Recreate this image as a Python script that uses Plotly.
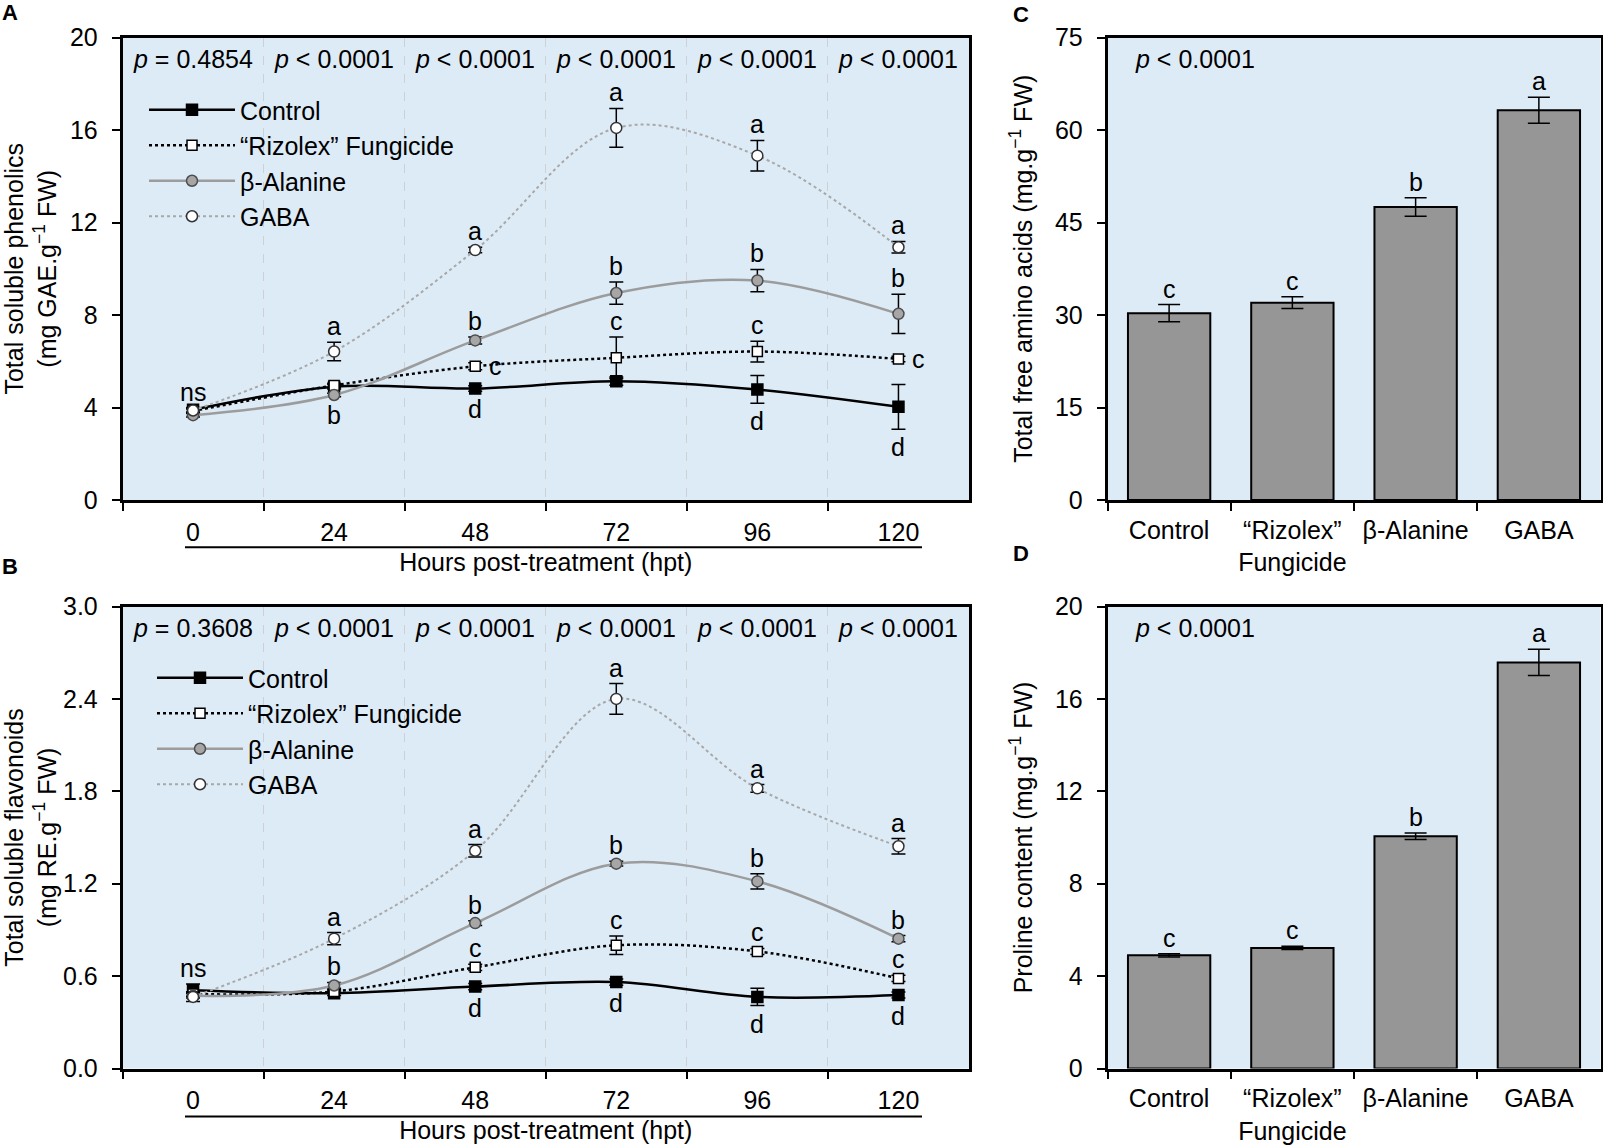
import plotly.graph_objects as go

W, H = 1603, 1148
FONT = 'Liberation Sans, Arial, sans-serif'

# categories
hpt = ['0', '24', '48', '72', '96', '120']
treatments = ['Control', '“Rizolex” Fungicide', 'β-Alanine', 'GABA']
bar_labels = ['Control', '“Rizolex”<br>Fungicide', 'β-Alanine', 'GABA']

# A: total soluble phenolics (mg GAE/g FW)
phen_control = [3.90, 4.90, 4.82, 5.14, 4.78, 4.03]
phen_control_se = [0.10, 0.10, 0.12, 0.18, 0.60, 0.97]
phen_rizolex = [3.85, 4.95, 5.78, 6.15, 6.42, 6.10]
phen_rizolex_se = [0.10, 0.10, 0.15, 0.90, 0.45, 0.12]
phen_alanine = [3.67, 4.54, 6.90, 8.95, 9.49, 8.05]
phen_alanine_se = [0.08, 0.08, 0.15, 0.48, 0.48, 0.85]
phen_gaba = [3.87, 6.42, 10.81, 16.09, 14.89, 10.93]
phen_gaba_se = [0.08, 0.40, 0.12, 0.84, 0.66, 0.25]
phen_p = ['= 0.4854', '< 0.0001', '< 0.0001', '< 0.0001', '< 0.0001', '< 0.0001']

# B: total soluble flavonoids (mg RE/g FW)
flav_control = [0.508, 0.489, 0.532, 0.561, 0.465, 0.477]
flav_control_se = [0.040, 0.015, 0.020, 0.020, 0.056, 0.020]
flav_rizolex = [0.484, 0.500, 0.657, 0.800, 0.760, 0.585]
flav_rizolex_se = [0.015, 0.012, 0.020, 0.060, 0.020, 0.020]
flav_alanine = [0.472, 0.539, 0.944, 1.330, 1.215, 0.843]
flav_alanine_se = [0.015, 0.020, 0.015, 0.015, 0.050, 0.020]
flav_gaba = [0.465, 0.843, 1.414, 2.400, 1.819, 1.443]
flav_gaba_se = [0.030, 0.040, 0.040, 0.100, 0.025, 0.050]
flav_p = ['= 0.3608', '< 0.0001', '< 0.0001', '< 0.0001', '< 0.0001', '< 0.0001']

# significance letters and where they sit (above / below / right of the point)
phen_letters = [
    (['ns', '', 'd', '', 'd', 'd'], ['above', '', 'below', '', 'below', 'below']),
    (['', '', 'c', 'c', 'c', 'c'], ['', '', 'right', 'above', 'above', 'right']),
    (['', 'b', 'b', 'b', 'b', 'b'], ['', 'below', 'above', 'above', 'above', 'above']),
    (['', 'a', 'a', 'a', 'a', 'a'], ['', 'above', 'above', 'above', 'above', 'above']),
]
flav_letters = [
    (['ns', '', 'd', 'd', 'd', 'd'], ['above', '', 'below', 'below', 'below', 'below']),
    (['', '', 'c', 'c', 'c', 'c'], ['', '', 'above', 'above', 'above', 'above']),
    (['', 'b', 'b', 'b', 'b', 'b'], ['', 'above', 'above', 'above', 'above', 'above']),
    (['', 'a', 'a', 'a', 'a', 'a'], ['', 'above', 'above', 'above', 'above', 'above']),
]

# C: total free amino acids, D: proline
amino_mean = [30.3, 32.0, 47.5, 63.2]
amino_se = [1.4, 0.95, 1.5, 2.1]
amino_letters = ['c', 'c', 'b', 'a']
proline_mean = [4.90, 5.22, 10.05, 17.58]
proline_se = [0.07, 0.07, 0.14, 0.57]
proline_letters = ['c', 'c', 'b', 'a']

# trace styles, same order as treatments
styles = [
    dict(line=dict(color='black', width=2.5, dash='solid'),
         marker=dict(symbol='square', size=11, color='black', line=dict(color='black', width=1.5))),
    dict(line=dict(color='black', width=2.5, dash='dot'),
         marker=dict(symbol='square', size=10, color='white', line=dict(color='black', width=1.5))),
    dict(line=dict(color='#9c9c9c', width=2.5, dash='solid'),
         marker=dict(symbol='circle', size=11, color='#a6a6a6', line=dict(color='#4d4d4d', width=1.5))),
    dict(line=dict(color='#a8a8a8', width=2, dash='dot'),
         marker=dict(symbol='circle', size=11, color='white', line=dict(color='#333333', width=1.5))),
]


def py(p):
    return 1 - p / H


fig = go.Figure()
annotations = []

line_panels = [
    ('x', 'y', 'legend',
     [phen_control, phen_rizolex, phen_alanine, phen_gaba],
     [phen_control_se, phen_rizolex_se, phen_alanine_se, phen_gaba_se],
     phen_letters, phen_p),
    ('x2', 'y2', 'legend2',
     [flav_control, flav_rizolex, flav_alanine, flav_gaba],
     [flav_control_se, flav_rizolex_se, flav_alanine_se, flav_gaba_se],
     flav_letters, flav_p),
]

for xa, ya, leg, means, ses, letters, pvals in line_panels:
    for name, m, s, st, (labs, poss) in zip(treatments, means, ses, styles, letters):
        fig.add_trace(go.Scatter(
            x=hpt, y=m, name=name, xaxis=xa, yaxis=ya, legend=leg,
            mode='lines+markers', line_shape='spline',
            line=st['line'], marker=st['marker'],
            error_y=dict(type='data', array=s, color='black', thickness=1.5, width=7),
        ))
        # numeric-looking category names would be read as indices, so use the index
        for i, (lab, pos) in enumerate(zip(labs, poss)):
            if not lab:
                continue
            a = dict(x=i, xref=xa, yref=ya, text=lab, showarrow=False,
                     xanchor='center', yanchor='middle',
                     font=dict(size=25, family=FONT, color='black'))
            if pos == 'above':
                a.update(y=m[i] + s[i], yshift=16)
            elif pos == 'below':
                a.update(y=m[i] - s[i], yshift=-18)
            else:
                a.update(y=m[i], xshift=20)
            annotations.append(a)
    for i, p in enumerate(pvals):
        annotations.append(dict(x=i, xref=xa, y=0.953, yref=ya + ' domain',
                                xanchor='center', yanchor='middle',
                                text='<i>p</i> ' + p, showarrow=False,
                                font=dict(size=25, family=FONT, color='black')))

bar_panels = [
    ('x3', 'y3', amino_mean, amino_se, amino_letters),
    ('x4', 'y4', proline_mean, proline_se, proline_letters),
]
for xa, ya, m, s, labs in bar_panels:
    fig.add_trace(go.Bar(
        x=bar_labels, y=m, xaxis=xa, yaxis=ya, showlegend=False,
        marker=dict(color='#969696', line=dict(color='black', width=2)),
        error_y=dict(type='data', array=s, color='black', thickness=1.5, width=11),
    ))
    for i, (v, e, lab) in enumerate(zip(m, s, labs)):
        annotations.append(dict(x=i, xref=xa, y=v + e, yref=ya, yshift=16, text=lab,
                                xanchor='center', yanchor='middle', showarrow=False,
                                font=dict(size=25, family=FONT, color='black')))
    annotations.append(dict(x=0.052, xref=xa + ' domain', y=0.953, yref=ya + ' domain',
                            xanchor='left', yanchor='middle', text='<i>p</i> < 0.0001',
                            showarrow=False, font=dict(size=25, family=FONT, color='black')))

# panel letters
for lab, x, y in [('A', 10, 13), ('B', 10, 566), ('C', 1021, 15), ('D', 1021, 553)]:
    annotations.append(dict(x=x / W, y=py(y), xref='paper', yref='paper', text='<b>' + lab + '</b>',
                            xanchor='center', yanchor='middle', showarrow=False,
                            font=dict(size=22, family=FONT, color='black')))

tick_font = dict(size=25, family=FONT, color='black')
title_font = dict(size=25, family=FONT, color='black')

top = [py(500), py(37.5)]
bottom = [py(1068.5), py(606.5)]
left = [122.5 / W, 969 / W]
right = [1107.5 / W, 1600.5 / W]

frame = dict(showline=True, mirror=True, linewidth=2.5, linecolor='black',
             ticks='outside', ticklen=8, tickwidth=2, tickcolor='black',
             tickfont=tick_font, zeroline=False, automargin=False)


def hpt_axis(anchor):
    return dict(frame, domain=left, anchor=anchor, type='category', categoryorder='array',
                categoryarray=hpt, range=[-0.5, 5.5], tickson='boundaries',
                showgrid=True, gridcolor='#cdd1d5', griddash='dash', gridwidth=1,
                ticklabelstandoff=8,
                title=dict(text='Hours post-treatment (hpt)', font=title_font, standoff=9))


def bar_axis(anchor, dom):
    return dict(frame, domain=dom, anchor=anchor, type='category', categoryorder='array',
                categoryarray=bar_labels, range=[-0.5, 3.5], tickson='boundaries',
                showgrid=False, ticklabelstandoff=6)


def val_axis(anchor, dom, rng, dtick, title, standoff):
    return dict(frame, domain=dom, anchor=anchor, range=rng, dtick=dtick, tick0=0,
                showgrid=False, ticklabelstandoff=9,
                title=dict(text=title, font=title_font, standoff=standoff))


fig.update_layout(
    template='none',
    width=W, height=H,
    margin=dict(l=0, r=0, t=0, b=0, autoexpand=False),
    paper_bgcolor='white', plot_bgcolor='#DDEBF7',
    font=dict(family=FONT, color='black'),
    bargap=0.332,
    xaxis=hpt_axis('y'),
    yaxis=val_axis('x', top, [0, 20], 4,
                   'Total soluble phenolics<br>(mg GAE.g<sup>−1</sup> FW)', 17),
    xaxis2=hpt_axis('y2'),
    yaxis2=dict(val_axis('x2', bottom, [0, 3.0], 0.6,
                         'Total soluble flavonoids<br>(mg RE.g<sup>−1</sup> FW)', 17),
                tickformat='.1f'),
    xaxis3=bar_axis('y3', right),
    yaxis3=val_axis('x3', top, [0, 75], 15, 'Total free amino acids (mg.g<sup>−1</sup> FW)', 16),
    xaxis4=bar_axis('y4', right),
    yaxis4=val_axis('x4', bottom, [0, 20], 4, 'Proline content (mg.g<sup>−1</sup> FW)', 16),
    legend=dict(x=144 / W, y=py(87), xanchor='left', yanchor='top', itemwidth=86,
                bgcolor='rgba(0,0,0,0)', font=dict(size=25, family=FONT, color='black')),
    legend2=dict(x=152 / W, y=py(655), xanchor='left', yanchor='top', itemwidth=86,
                 bgcolor='rgba(0,0,0,0)', font=dict(size=25, family=FONT, color='black')),
    annotations=annotations,
    # underline below the hpt tick labels
    shapes=[
        dict(type='line', xref='paper', yref='paper', x0=185 / W, x1=922 / W,
             y0=py(547.3), y1=py(547.3), line=dict(color='black', width=2)),
        dict(type='line', xref='paper', yref='paper', x0=185 / W, x1=922 / W,
             y0=py(1116.6), y1=py(1116.6), line=dict(color='black', width=2)),
    ],
)

# drop the page's default body margin so the figure sits at the window's corner
fig.write_html('out.html', config={'displayModeBar': False},
               post_script="document.body.style.margin='0';document.body.style.overflow='hidden';")
